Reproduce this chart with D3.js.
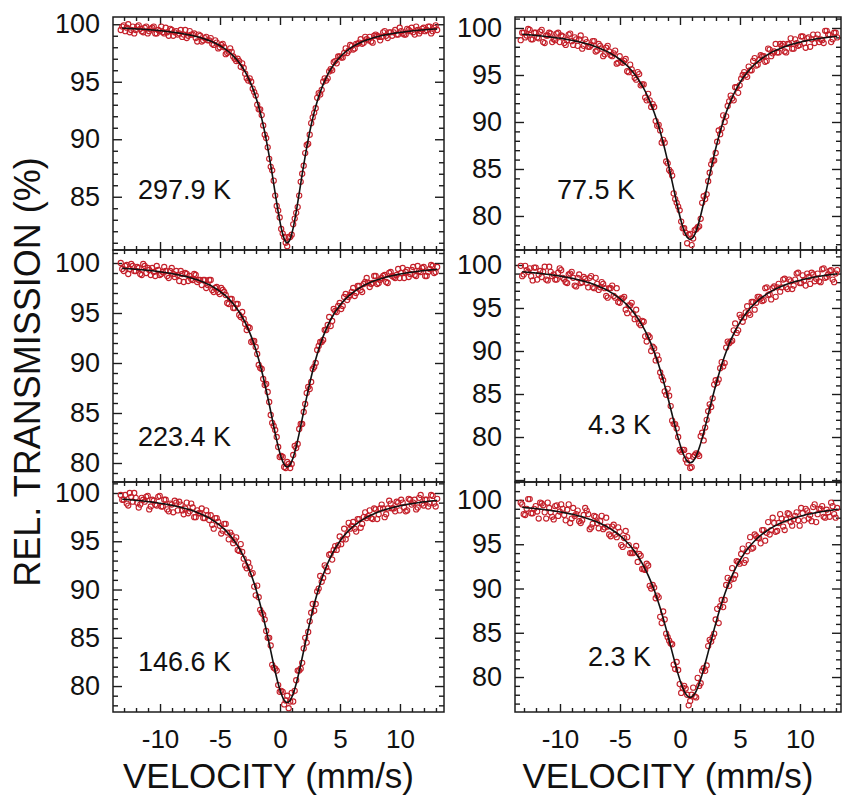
<!DOCTYPE html>
<html>
<head>
<meta charset="utf-8">
<script src="https://cdn.jsdelivr.net/npm/d3@7"></script>
<style>
  html, body { margin: 0; padding: 0; background: #ffffff; }
  svg { display: block; font-family: "Liberation Sans", Arial, Helvetica, sans-serif; }
</style>
</head>
<body>
<svg id="chart" width="842" height="795"></svg>
<script>
// Channel velocities (mm/s): first channel set, also used by the fitted curves
const velocity = [
  -13.15,-12.9,-12.65,-12.4,-12.15,-11.9,-11.65,-11.4,-11.15,-10.9,
  -10.65,-10.4,-10.15,-9.9,-9.65,-9.4,-9.15,-8.9,-8.65,-8.4,
  -8.15,-7.9,-7.65,-7.4,-7.15,-6.9,-6.65,-6.4,-6.15,-5.9,
  -5.65,-5.4,-5.15,-4.9,-4.65,-4.4,-4.15,-3.9,-3.65,-3.4,
  -3.15,-2.9,-2.65,-2.4,-2.15,-1.9,-1.65,-1.4,-1.15,-0.9,
  -0.65,-0.4,-0.15,0.1,0.35,0.6,0.85,1.1,1.35,1.6,
  1.85,2.1,2.35,2.6,2.85,3.1,3.35,3.6,3.85,4.1,
  4.35,4.6,4.85,5.1,5.35,5.6,5.85,6.1,6.35,6.6,
  6.85,7.1,7.35,7.6,7.85,8.1,8.35,8.6,8.85,9.1,
  9.35,9.6,9.85,10.1,10.35,10.6,10.85,11.1,11.35,11.6,
  11.85,12.1,12.35,12.6,12.85,13.1
];
// second (interleaved) channel set
const velocityB = [
  -13.275,-13.025,-12.775,-12.525,-12.275,-12.025,-11.775,-11.525,-11.275,-11.025,
  -10.775,-10.525,-10.275,-10.025,-9.775,-9.525,-9.275,-9.025,-8.775,-8.525,
  -8.275,-8.025,-7.775,-7.525,-7.275,-7.025,-6.775,-6.525,-6.275,-6.025,
  -5.775,-5.525,-5.275,-5.025,-4.775,-4.525,-4.275,-4.025,-3.775,-3.525,
  -3.275,-3.025,-2.775,-2.525,-2.275,-2.025,-1.775,-1.525,-1.275,-1.025,
  -0.775,-0.525,-0.275,-0.025,0.225,0.475,0.725,0.975,1.225,1.475,
  1.725,1.975,2.225,2.475,2.725,2.975,3.225,3.475,3.725,3.975,
  4.225,4.475,4.725,4.975,5.225,5.475,5.725,5.975,6.225,6.475,
  6.725,6.975,7.225,7.475,7.725,7.975,8.225,8.475,8.725,8.975,
  9.225,9.475,9.725,9.975,10.225,10.475,10.725,10.975,11.225,11.475,
  11.725,11.975,12.225,12.475,12.725,12.975
];

// ---- 297.9 K ----
const trans298 = [
  99.8,99.4,100.0,99.5,99.2,99.8,99.6,99.3,99.8,99.4,
  99.7,99.2,99.5,99.8,99.2,99.3,99.6,99.0,99.4,99.2,
  98.9,99.5,99.0,99.1,99.2,98.5,99.0,98.6,98.9,98.6,
  98.3,98.6,97.9,98.2,98.0,97.5,97.9,97.2,96.8,96.8,
  96.6,95.7,95.1,95.0,94.1,93.0,92.6,91.2,90.1,88.3,
  87.3,85.1,83.8,82.2,81.5,80.7,81.5,82.6,83.6,85.1,
  87.0,88.8,89.6,91.4,92.3,93.6,93.9,95.0,95.1,95.9,
  96.0,96.8,97.2,97.1,97.5,97.5,98.2,97.8,98.3,98.4,
  98.3,98.9,98.6,98.5,99.0,99.0,98.6,99.3,99.0,99.3,
  99.0,99.5,99.1,99.4,99.1,99.6,99.4,99.3,99.8,99.2,
  99.6,99.4,99.8,99.2,99.7,99.5
];
const trans298b = [
  99.5,99.9,99.7,99.3,99.8,99.5,99.9,99.4,99.7,99.2,
  99.6,99.8,99.2,99.4,99.3,99.7,99.0,99.5,99.3,99.1,
  99.5,99.1,98.8,99.4,99.1,98.8,99.1,98.5,98.8,98.6,
  98.8,98.2,98.4,98.0,98.3,97.4,97.6,97.6,97.0,97.0,
  96.3,96.2,95.3,95.3,94.4,93.8,92.6,92.1,90.4,89.3,
  87.6,86.4,84.2,83.2,81.8,81.0,81.5,81.7,83.1,84.1,
  86.3,87.7,89.5,90.4,91.9,92.7,94.0,94.3,95.3,95.3,
  96.1,96.7,96.6,97.2,97.1,97.9,97.7,98.1,97.9,98.3,
  98.7,98.4,98.7,98.9,98.4,99.1,98.9,98.9,99.4,98.8,
  99.3,99.3,99.1,99.7,99.2,99.1,99.5,99.7,99.1,99.5,
  99.4,99.7,99.5,99.8,99.4,99.9
];
const fit298 = [
  99.66,99.65,99.64,99.62,99.61,99.59,99.58,99.56,99.54,99.52,
  99.50,99.48,99.45,99.43,99.40,99.37,99.34,99.31,99.27,99.23,
  99.19,99.14,99.09,99.04,98.98,98.91,98.84,98.76,98.67,98.58,
  98.47,98.35,98.22,98.07,97.90,97.71,97.50,97.25,96.97,96.65,
  96.28,95.85,95.35,94.77,94.08,93.28,92.34,91.24,89.97,88.54,
  86.96,85.30,83.68,82.29,81.34,81.00,81.34,82.29,83.68,85.30,
  86.96,88.54,89.97,91.24,92.34,93.28,94.08,94.77,95.35,95.85,
  96.28,96.65,96.97,97.25,97.50,97.71,97.90,98.07,98.22,98.35,
  98.47,98.58,98.67,98.76,98.84,98.91,98.98,99.04,99.09,99.14,
  99.19,99.23,99.27,99.31,99.34,99.37,99.40,99.43,99.45,99.48,
  99.50,99.52,99.54,99.56,99.58,99.59
];

// ---- 77.5 K ----
const trans77 = [
  99.5,99.0,99.9,98.8,99.5,99.0,99.6,98.5,99.2,99.5,
  98.5,98.7,99.5,99.2,98.4,98.7,99.4,98.2,98.8,98.8,
  97.8,98.8,98.0,98.2,98.6,97.6,98.1,97.0,97.9,97.5,
  97.0,97.6,96.3,96.4,96.5,95.4,96.1,95.2,94.5,95.1,
  94.0,92.6,93.0,91.6,91.6,89.6,89.1,88.1,85.8,84.9,
  84.3,81.8,81.0,79.4,78.7,77.1,78.1,77.6,78.6,78.9,
  81.4,81.8,83.7,85.5,85.9,87.9,88.7,90.7,90.6,92.2,
  92.5,93.7,93.1,94.6,95.3,94.8,95.5,96.5,96.0,96.6,
  97.0,96.4,97.8,97.0,97.5,97.4,98.3,98.3,97.4,98.3,
  97.8,98.8,98.1,99.1,98.4,98.9,98.0,99.3,98.9,98.5,
  98.7,99.7,99.3,98.5,99.5,99.0
];
const trans77b = [
  98.7,99.5,99.2,99.8,98.8,99.5,98.9,99.8,98.4,99.2,
  99.4,98.8,99.4,98.5,99.1,98.2,99.3,98.6,99.0,98.1,
  99.2,98.1,98.5,98.0,98.6,97.5,98.3,97.8,97.2,98.1,
  97.1,97.3,96.2,97.0,96.3,96.7,95.3,95.6,94.7,95.3,
  93.9,94.0,92.3,92.3,91.9,90.1,89.7,87.8,87.8,85.6,
  84.7,82.4,81.4,80.6,78.7,78.2,78.0,76.9,78.5,78.8,
  79.7,82.1,82.3,84.6,85.9,86.7,89.1,89.3,90.0,91.7,
  92.8,92.3,93.7,93.9,95.0,95.0,95.9,95.5,96.8,96.1,
  97.1,97.0,96.5,97.7,97.3,98.3,97.4,98.1,97.5,98.3,
  98.9,97.8,98.4,98.2,99.1,97.9,99.0,98.8,98.4,99.3,
  98.8,98.4,99.7,99.3,98.8,99.5
];
const fit77 = [
  99.33,99.31,99.28,99.26,99.23,99.20,99.17,99.13,99.10,99.06,
  99.02,98.98,98.94,98.89,98.84,98.78,98.73,98.66,98.60,98.52,
  98.45,98.36,98.27,98.18,98.07,97.96,97.83,97.69,97.54,97.38,
  97.20,97.00,96.78,96.54,96.27,95.98,95.64,95.27,94.86,94.39,
  93.86,93.27,92.60,91.85,91.00,90.04,88.98,87.79,86.50,85.10,
  83.63,82.15,80.71,79.43,78.40,77.73,77.50,77.73,78.40,79.43,
  80.71,82.15,83.63,85.10,86.50,87.79,88.98,90.04,91.00,91.85,
  92.60,93.27,93.86,94.39,94.86,95.27,95.64,95.98,96.27,96.54,
  96.78,97.00,97.20,97.38,97.54,97.69,97.83,97.96,98.07,98.18,
  98.27,98.36,98.45,98.52,98.60,98.66,98.73,98.78,98.84,98.89,
  98.94,98.98,99.02,99.06,99.10,99.13
];

// ---- 223.4 K ----
const trans223 = [
  99.4,99.7,98.9,99.9,99.2,99.6,98.9,99.9,99.0,99.3,
  99.5,98.7,99.3,98.9,99.6,98.7,99.2,98.9,99.2,98.2,
  98.9,99.0,98.2,98.4,98.9,98.1,98.3,98.3,97.5,98.3,
  97.3,97.5,97.1,97.5,97.1,96.0,96.4,95.5,95.9,94.8,
  95.1,93.9,93.6,92.1,92.2,90.9,89.5,88.4,87.9,86.1,
  84.0,83.3,81.6,80.7,79.6,80.1,79.5,80.8,81.5,83.4,
  83.9,85.9,87.6,88.1,89.6,91.3,92.1,92.3,93.3,94.6,
  94.2,95.2,95.7,95.4,96.6,96.3,96.8,97.5,97.0,97.7,
  97.1,98.1,98.0,97.9,98.7,97.9,98.3,98.7,98.1,99.0,
  98.7,98.5,99.4,99.0,98.5,99.3,98.9,99.6,98.7,99.2,
  99.5,98.7,99.1,99.8,99.0,99.6
];
const trans223b = [
  100.0,99.2,99.8,99.4,99.7,99.2,99.5,98.8,99.7,99.5,
  98.8,99.1,99.7,98.8,99.1,99.2,98.5,99.5,98.6,98.8,
  99.2,98.1,98.9,98.7,98.3,98.8,98.3,97.8,98.3,97.8,
  98.3,97.1,97.6,96.9,97.3,96.8,95.9,96.4,95.5,95.9,
  94.6,94.4,93.3,93.5,92.2,91.6,89.8,89.4,87.8,87.1,
  84.8,83.7,82.6,80.6,80.6,79.5,79.9,79.9,81.7,81.9,
  83.9,85.1,87.0,87.4,89.4,90.0,91.7,92.1,93.3,93.8,
  93.7,95.4,95.1,96.0,95.7,96.9,96.6,97.1,96.7,97.7,
  97.3,97.9,98.5,97.6,98.0,98.7,98.0,98.5,98.8,98.0,
  99.1,98.6,98.8,98.5,99.5,99.1,98.6,99.3,98.8,99.7,
  99.1,99.6,98.7,99.4,99.7,99.1
];
const fit223 = [
  99.47,99.45,99.43,99.41,99.38,99.36,99.33,99.31,99.28,99.25,
  99.22,99.18,99.14,99.10,99.06,99.02,98.97,98.92,98.86,98.80,
  98.73,98.66,98.59,98.50,98.41,98.32,98.21,98.09,97.96,97.82,
  97.66,97.48,97.29,97.07,96.83,96.56,96.26,95.92,95.53,95.10,
  94.60,94.03,93.39,92.66,91.82,90.87,89.80,88.60,87.29,85.88,
  84.41,82.96,81.64,80.56,79.85,79.60,79.85,80.56,81.64,82.96,
  84.41,85.88,87.29,88.60,89.80,90.87,91.82,92.66,93.39,94.03,
  94.60,95.10,95.53,95.92,96.26,96.56,96.83,97.07,97.29,97.48,
  97.66,97.82,97.96,98.09,98.21,98.32,98.41,98.50,98.59,98.66,
  98.73,98.80,98.86,98.92,98.97,99.02,99.06,99.10,99.14,99.18,
  99.22,99.25,99.28,99.31,99.33,99.36
];

// ---- 4.3 K ----
const trans4 = [
  98.7,99.9,99.2,98.7,99.7,98.3,99.3,99.2,98.3,99.8,
  98.7,98.3,99.1,99.4,98.3,97.9,99.0,98.5,97.5,98.9,
  98.0,98.4,97.4,98.7,97.3,97.8,97.4,97.8,96.4,97.3,
  97.6,96.2,95.7,96.1,96.3,94.4,95.3,94.3,94.8,93.2,
  93.5,91.7,91.8,90.0,90.3,89.5,87.5,86.6,84.9,84.8,
  81.9,81.5,80.0,78.3,78.5,77.0,76.4,77.7,78.1,77.8,
  80.5,81.1,83.0,83.5,86.1,86.3,88.0,88.2,90.4,90.9,
  91.2,93.2,92.4,93.9,93.9,95.2,94.2,95.7,95.6,96.3,
  95.8,97.3,96.5,96.0,97.5,97.4,96.9,98.3,97.4,98.3,
  97.2,98.3,99.1,97.9,98.2,99.0,97.8,98.9,98.4,98.1,
  99.5,98.5,98.9,99.4,98.0,99.4
];
const trans4b = [
  99.9,98.9,99.4,99.6,98.2,99.7,98.9,98.6,99.8,98.2,
  99.2,98.9,98.3,99.6,98.5,98.0,98.9,99.2,97.6,98.5,
  97.9,98.6,97.9,98.5,97.4,98.5,97.1,98.0,97.3,96.2,
  97.3,96.4,97.3,95.6,96.1,94.8,95.3,95.6,93.7,93.8,
  93.0,93.4,91.1,91.6,90.5,88.9,89.0,87.0,85.3,85.6,
  83.6,81.5,81.0,78.5,78.5,77.4,77.8,76.5,77.9,78.0,
  80.1,79.6,82.0,83.8,84.5,86.6,86.7,88.7,88.6,91.1,
  91.1,92.4,92.1,94.2,93.4,94.5,94.4,95.7,94.8,96.3,
  96.1,95.9,97.4,96.6,97.3,96.3,97.8,97.4,98.4,97.2,
  98.1,97.6,99.0,97.9,98.8,97.6,98.6,99.1,98.1,99.0,
  98.0,99.6,98.6,99.3,98.3,99.0
];
const fit4 = [
  99.20,99.18,99.15,99.12,99.08,99.05,99.01,98.97,98.93,98.89,
  98.84,98.79,98.74,98.68,98.62,98.56,98.49,98.42,98.34,98.26,
  98.16,98.07,97.96,97.85,97.73,97.59,97.45,97.29,97.12,96.93,
  96.72,96.49,96.25,95.97,95.67,95.33,94.96,94.54,94.08,93.56,
  92.98,92.34,91.62,90.82,89.92,88.93,87.83,86.63,85.35,83.98,
  82.58,81.19,79.87,78.71,77.79,77.20,77.00,77.20,77.79,78.71,
  79.87,81.19,82.58,83.98,85.35,86.63,87.83,88.93,89.92,90.82,
  91.62,92.34,92.98,93.56,94.08,94.54,94.96,95.33,95.67,95.97,
  96.25,96.49,96.72,96.93,97.12,97.29,97.45,97.59,97.73,97.85,
  97.96,98.07,98.16,98.26,98.34,98.42,98.49,98.56,98.62,98.68,
  98.74,98.79,98.84,98.89,98.93,98.97
];

// ---- 146.6 K ----
const trans146 = [
  99.3,99.8,98.7,99.6,100.0,99.0,98.8,99.3,99.6,98.3,
  99.3,98.8,99.6,98.6,99.3,98.3,98.9,98.0,99.0,99.1,
  98.2,98.4,97.9,98.9,97.5,98.2,97.9,97.4,98.2,97.2,
  96.7,97.4,97.0,95.8,96.8,95.9,95.9,94.8,95.4,94.0,
  93.9,92.5,92.8,91.6,90.3,90.4,87.9,87.4,85.7,85.0,
  82.2,81.8,80.1,79.5,78.1,79.0,78.4,78.4,80.6,81.6,
  82.4,85.0,85.6,87.6,87.8,89.8,91.4,91.2,92.3,93.6,
  93.1,94.5,94.6,94.7,96.3,95.7,96.3,97.0,96.0,97.3,
  96.8,98.0,97.6,97.4,98.4,97.3,98.4,98.4,97.8,99.2,
  98.4,98.1,99.0,99.3,98.5,98.2,99.3,99.0,98.3,99.5,
  98.9,99.3,98.6,99.8,98.9,99.4
];
const trans146b = [
  99.8,99.3,98.9,100.0,99.1,99.5,98.5,99.5,99.1,99.7,
  98.6,99.2,98.7,99.7,98.6,99.3,98.1,98.8,99.2,98.2,
  98.8,97.8,99.0,98.1,98.5,97.5,97.9,98.4,97.4,97.7,
  97.7,96.3,97.4,96.6,96.1,96.8,95.2,95.6,95.1,94.1,
  94.7,93.2,92.2,92.3,91.7,89.4,89.2,87.6,86.9,85.0,
  84.2,81.9,81.6,79.4,79.4,78.5,77.7,79.3,79.5,81.6,
  81.8,83.9,84.5,86.7,88.5,88.5,90.1,90.8,92.5,91.9,
  93.7,94.1,94.1,95.5,95.2,95.2,96.9,96.6,96.3,97.3,
  96.4,97.5,97.4,98.2,97.3,98.3,97.8,98.8,97.5,98.4,
  98.9,98.4,99.1,98.2,99.0,98.1,99.4,98.8,99.3,98.5,
  99.8,98.7,99.3,98.9,99.7,98.6
];
const fit146 = [
  99.36,99.34,99.31,99.28,99.26,99.23,99.20,99.17,99.13,99.09,
  99.06,99.01,98.97,98.92,98.87,98.82,98.76,98.70,98.63,98.56,
  98.48,98.40,98.31,98.21,98.10,97.98,97.86,97.72,97.56,97.40,
  97.21,97.01,96.78,96.53,96.25,95.94,95.59,95.19,94.75,94.26,
  93.69,93.06,92.34,91.53,90.62,89.59,88.45,87.19,85.83,84.40,
  82.93,81.51,80.23,79.20,78.53,78.30,78.53,79.20,80.23,81.51,
  82.93,84.40,85.83,87.19,88.45,89.59,90.62,91.53,92.34,93.06,
  93.69,94.26,94.75,95.19,95.59,95.94,96.25,96.53,96.78,97.01,
  97.21,97.40,97.56,97.72,97.86,97.98,98.10,98.21,98.31,98.40,
  98.48,98.56,98.63,98.70,98.76,98.82,98.87,98.92,98.97,99.01,
  99.06,99.09,99.13,99.17,99.20,99.23
];

// ---- 2.3 K ----
const trans2 = [
  99.5,98.3,100.1,98.5,99.0,98.7,99.7,99.4,97.9,99.1,
  98.1,99.3,98.2,99.5,98.3,98.9,97.4,99.1,98.4,97.6,
  97.7,99.1,98.4,96.9,98.2,97.4,97.6,96.7,98.0,96.1,
  97.0,96.1,96.9,94.9,95.7,95.8,94.0,94.0,94.8,93.9,
  92.2,92.1,92.6,90.0,90.1,89.2,86.8,87.4,84.9,84.1,
  83.7,80.9,80.8,78.2,79.0,78.0,77.3,78.8,77.7,79.0,
  80.7,80.7,83.5,84.0,84.9,87.7,88.0,87.9,90.4,90.3,
  92.3,91.5,93.0,93.9,92.9,94.2,95.8,94.6,95.9,95.7,
  96.6,95.4,97.5,96.6,97.4,96.5,98.4,97.0,97.8,98.4,
  97.1,98.2,97.7,99.1,97.7,98.8,98.3,99.2,97.5,99.0,
  99.3,98.0,98.6,99.7,98.4,99.1
];
const trans2b = [
  99.7,98.4,99.0,100.1,98.5,99.3,97.9,99.6,98.6,99.7,
  98.6,97.8,99.4,98.7,99.0,97.7,99.5,97.9,98.2,98.8,
  97.4,98.3,98.8,96.7,97.3,98.1,96.8,98.2,96.9,97.0,
  95.9,97.2,95.8,96.4,94.7,96.5,94.9,94.0,94.4,93.0,
  93.7,92.2,92.8,90.3,90.4,88.9,89.0,86.1,86.5,84.5,
  83.8,81.4,81.7,79.2,78.8,78.7,76.8,78.0,77.8,79.9,
  79.3,81.0,81.3,84.2,84.5,86.5,86.1,88.7,88.7,91.2,
  91.0,91.1,93.1,92.8,94.5,93.2,94.9,94.5,96.1,95.7,
  95.1,96.6,96.3,96.1,98.0,96.4,97.4,97.9,96.6,98.5,
  97.5,97.8,98.6,97.1,98.5,99.0,97.9,97.6,99.5,98.4,
  99.0,98.1,98.9,98.1,99.3,98.0
];
const fit2 = [
  99.17,99.14,99.11,99.08,99.04,99.01,98.97,98.93,98.89,98.84,
  98.79,98.74,98.69,98.63,98.57,98.50,98.43,98.36,98.28,98.19,
  98.10,97.99,97.89,97.77,97.64,97.51,97.36,97.19,97.02,96.82,
  96.61,96.38,96.13,95.85,95.54,95.20,94.82,94.40,93.94,93.42,
  92.84,92.20,91.49,90.69,89.82,88.85,87.79,86.64,85.41,84.13,
  82.81,81.52,80.30,79.24,78.41,77.88,77.70,77.88,78.41,79.24,
  80.30,81.52,82.81,84.13,85.41,86.64,87.79,88.85,89.82,90.69,
  91.49,92.20,92.84,93.42,93.94,94.40,94.82,95.20,95.54,95.85,
  96.13,96.38,96.61,96.82,97.02,97.19,97.36,97.51,97.64,97.77,
  97.89,97.99,98.10,98.19,98.28,98.36,98.43,98.50,98.57,98.63,
  98.69,98.74,98.79,98.84,98.89,98.93
];

const temperatureLabels = ["297.9 K", "77.5 K", "223.4 K", "4.3 K", "146.6 K", "2.3 K"];
const yTickValues = [100, 95, 90, 85, 80];
const xTickValues = [-10, -5, 0, 5, 10];
const xTitle = "VELOCITY (mm/s)";
const yTitle = "REL. TRANSMISSION (%)";

// ---- layout ----
const columns = [
  { x0: 113, x1: 444, dom: [-13.92, 13.67] },
  { x0: 515, x1: 841, dom: [-13.75, 13.42] }
];
const rows = [[17, 250], [250, 482], [482, 712]];

const panels = [
  { col: 0, row: 0, a: trans298, b: trans298b, fit: fit298, label: temperatureLabels[0], yDom: [80.37, 100.63], lx: 138, ly: 199 },
  { col: 1, row: 0, a: trans77,  b: trans77b,  fit: fit77,  label: temperatureLabels[1], yDom: [76.38, 101.17], lx: 557, ly: 199 },
  { col: 0, row: 1, a: trans223, b: trans223b, fit: fit223, label: temperatureLabels[2], yDom: [78.1, 101.3],   lx: 138, ly: 446 },
  { col: 1, row: 1, a: trans4,   b: trans4b,   fit: fit4,   label: temperatureLabels[3], yDom: [74.77, 101.74], lx: 588, ly: 434 },
  { col: 0, row: 2, a: trans146, b: trans146b, fit: fit146, label: temperatureLabels[4], yDom: [77.31, 101.14], lx: 138, ly: 671 },
  { col: 1, row: 2, a: trans2,   b: trans2b,   fit: fit2,   label: temperatureLabels[5], yDom: [76.05, 102.03], lx: 588, ly: 666 }
];

const ink = "#1c1c1c";
const markerRed = "#c41f29";
const svg = d3.select("#chart");

function tickSet(g, axis, values, len, transform) {
  g.append("g")
    .attr("transform", transform)
    .style("color", ink)
    .call(axis.tickValues(values).tickSize(-len).tickFormat(""))
    .call(a => a.select(".domain").remove())
    .call(a => a.selectAll("line").attr("stroke-width", 1.4));
}

panels.forEach((p, i) => {
  const c = columns[p.col];
  const [top, bottom] = rows[p.row];
  const x = d3.scaleLinear().domain(c.dom).range([c.x0, c.x1]);
  const y = d3.scaleLinear().domain(p.yDom).range([bottom, top]);
  const g = svg.append("g");

  const clipId = "plot-clip-" + i;
  svg.append("clipPath").attr("id", clipId)
    .append("rect").attr("x", c.x0).attr("y", top)
    .attr("width", c.x1 - c.x0).attr("height", bottom - top);

  // inward ticks on all four sides
  const xInts = d3.range(Math.ceil(c.dom[0]), Math.floor(c.dom[1]) + 1);
  const yInts = d3.range(Math.ceil(p.yDom[0]), Math.floor(p.yDom[1]) + 1);
  const xMinor = xInts.filter(v => v % 5 !== 0), xMajor = xInts.filter(v => v % 5 === 0);
  const yMinor = yInts.filter(v => v % 5 !== 0), yMajor = yInts.filter(v => v % 5 === 0);

  tickSet(g, d3.axisBottom(x), xMinor, 4, `translate(0,${bottom})`);
  tickSet(g, d3.axisBottom(x), xMajor, 8, `translate(0,${bottom})`);
  tickSet(g, d3.axisTop(x), xMinor, 4, `translate(0,${top})`);
  tickSet(g, d3.axisTop(x), xMajor, 8, `translate(0,${top})`);
  tickSet(g, d3.axisLeft(y), yMinor, 5, `translate(${c.x0},0)`);
  tickSet(g, d3.axisLeft(y), yMajor, 9, `translate(${c.x0},0)`);
  tickSet(g, d3.axisRight(y), yMinor, 5, `translate(${c.x1},0)`);
  tickSet(g, d3.axisRight(y), yMajor, 9, `translate(${c.x1},0)`);

  // measured points (both channel sets)
  const points = p.a.map((t, k) => ({ v: velocity[k], t }))
    .concat(p.b.map((t, k) => ({ v: velocityB[k], t })));
  const plot = g.append("g").attr("clip-path", `url(#${clipId})`);
  plot.selectAll("circle").data(points).join("circle")
    .attr("cx", d => x(d.v))
    .attr("cy", d => y(d.t))
    .attr("r", 2.6)
    .attr("fill", "none")
    .attr("stroke", markerRed)
    .attr("stroke-width", 1.1);

  // fitted curve
  plot.append("path")
    .datum(p.fit)
    .attr("fill", "none")
    .attr("stroke", "#111")
    .attr("stroke-width", 1.6)
    .attr("d", d3.line().x((d, k) => x(velocity[k])).y(d => y(d)).curve(d3.curveMonotoneX));

  // frame
  g.append("rect")
    .attr("x", c.x0).attr("y", top)
    .attr("width", c.x1 - c.x0).attr("height", bottom - top)
    .attr("fill", "none").attr("stroke", ink).attr("stroke-width", 1.5);

  // y tick labels
  const yLab = yTickValues.filter(v => v >= p.yDom[0] && v <= p.yDom[1]);
  g.append("g")
    .attr("transform", `translate(${c.x0},0)`)
    .call(d3.axisLeft(y).tickValues(yLab).tickSize(0).tickPadding(13).tickFormat(d => String(d)))
    .call(a => a.select(".domain").remove())
    .call(a => a.selectAll("text")
      .attr("font-family", "Liberation Sans, Arial, sans-serif")
      .attr("font-size", 27).attr("fill", "#111"));

  // x tick labels and title on the bottom row
  if (p.row === 2) {
    g.append("g")
      .attr("transform", `translate(0,${bottom})`)
      .call(d3.axisBottom(x).tickValues(xTickValues).tickSize(0).tickPadding(18).tickFormat(d => String(d)))
      .call(a => a.select(".domain").remove())
      .call(a => a.selectAll("text")
        .attr("font-family", "Liberation Sans, Arial, sans-serif")
        .attr("font-size", 26).attr("fill", "#111"));

    g.append("text")
      .attr("x", (c.x0 + c.x1) / 2 - 10)
      .attr("y", 788)
      .attr("text-anchor", "middle")
      .attr("font-size", 35)
      .attr("fill", "#111")
      .text(xTitle);
  }

  // temperature label
  g.append("text")
    .attr("x", p.lx).attr("y", p.ly)
    .attr("font-size", 27).attr("fill", "#111")
    .text(p.label);
});

// shared y title
svg.append("text")
  .attr("transform", "translate(40,372) rotate(-90)")
  .attr("text-anchor", "middle")
  .attr("font-size", 36)
  .attr("fill", "#111")
  .text(yTitle);
</script>
</body>
</html>
